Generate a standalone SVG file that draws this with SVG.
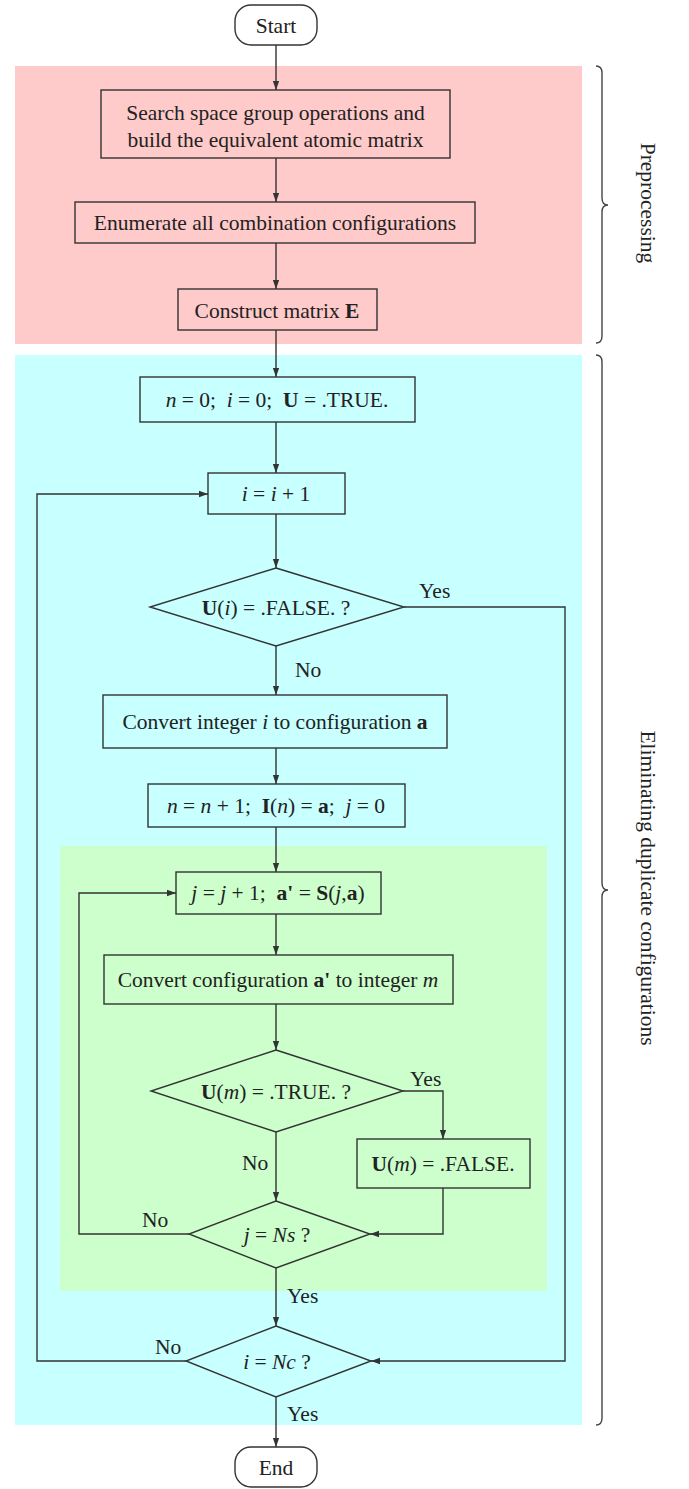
<svg xmlns="http://www.w3.org/2000/svg" width="689" height="1489" viewBox="0 0 689 1489">
<style>
text{font-family:"Liberation Serif","Times New Roman",serif;font-size:21.5px;fill:#222;}
.c{text-anchor:middle;}
.b{font-weight:bold;}
.i{font-style:italic;}
.n{fill:none;stroke:#333;stroke-width:1.4;}
.t{fill:#fff;stroke:#333;stroke-width:1.4;}
.e{fill:none;stroke:#333;stroke-width:1.4;}
.br{fill:none;stroke:#444;stroke-width:1.4;}
</style>
<defs>
<marker id="ah" viewBox="0 0 10 10" refX="10" refY="5" markerWidth="9" markerHeight="9" markerUnits="userSpaceOnUse" orient="auto">
<path d="M0,1.5 L10,5 L0,8.5 Z" fill="#333"/>
</marker>
</defs>
<g id="backgrounds">
<rect x="15" y="66" width="567" height="278" fill="#FFCACA"/>
<rect x="15" y="355" width="567" height="1070" fill="#C8FFFF"/>
<rect x="60" y="846" width="487" height="445" fill="#CCFFCC"/>
</g>
<g id="braces">
<path class="br" d="M596,66 Q602,66 602,73 L602,198 Q602,205 608,205 Q602,205 602,212 L602,336 Q602,343 596,343"/>
<path class="br" d="M596,355 Q602,355 602,362 L602,883 Q602,890 608,890 Q602,890 602,897 L602,1418 Q602,1425 596,1425"/>
<text class="c" transform="translate(641,203) rotate(90)">Preprocessing</text>
<text class="c" transform="translate(641,888) rotate(90)">Eliminating duplicate configurations</text>
</g>
<g id="connectors">
<path class="e" d="M276,45 L276,90" marker-end="url(#ah)"/>
<path class="e" d="M276,158 L276,202" marker-end="url(#ah)"/>
<path class="e" d="M276,243 L276,289" marker-end="url(#ah)"/>
<path class="e" d="M276,330 L276,377" marker-end="url(#ah)"/>
<path class="e" d="M276,422 L276,473" marker-end="url(#ah)"/>
<path class="e" d="M276,514 L276,568" marker-end="url(#ah)"/>
<path class="e" d="M276,646 L276,695" marker-end="url(#ah)"/>
<path class="e" d="M404,607 L565,607 L565,1361 L371,1361" marker-end="url(#ah)"/>
<path class="e" d="M276,748 L276,784" marker-end="url(#ah)"/>
<path class="e" d="M276,827 L276,872" marker-end="url(#ah)"/>
<path class="e" d="M276,914 L276,955" marker-end="url(#ah)"/>
<path class="e" d="M276,1004 L276,1050" marker-end="url(#ah)"/>
<path class="e" d="M403,1091 L443,1091 L443,1139" marker-end="url(#ah)"/>
<path class="e" d="M276,1132 L276,1201" marker-end="url(#ah)"/>
<path class="e" d="M443,1188 L443,1234 L370,1234" marker-end="url(#ah)"/>
<path class="e" d="M189,1234 L79,1234 L79,893 L176,893" marker-end="url(#ah)"/>
<path class="e" d="M276,1268 L276,1326" marker-end="url(#ah)"/>
<path class="e" d="M186,1361 L37,1361 L37,494 L208,494" marker-end="url(#ah)"/>
<path class="e" d="M276,1397 L276,1447" marker-end="url(#ah)"/>
<text x="419" y="598">Yes</text>
<text x="295" y="677">No</text>
<text x="410" y="1086">Yes</text>
<text x="242" y="1170">No</text>
<text x="142" y="1227">No</text>
<text x="287" y="1303">Yes</text>
<text x="155" y="1354">No</text>
<text x="287" y="1421">Yes</text>
</g>
<g id="start">
<rect class="t" x="235" y="5" width="82" height="40" rx="16"/>
<text class="c" x="276" y="33">Start</text>
</g>
<g id="search">
<rect class="n" x="101" y="90" width="349" height="68"/>
<text class="c" x="275.5" y="120">Search space group operations and</text>
<text class="c" x="275.5" y="147">build the equivalent atomic matrix</text>
</g>
<g id="enumerate">
<rect class="n" x="75" y="202" width="400" height="41"/>
<text class="c" x="275" y="230">Enumerate all combination configurations</text>
</g>
<g id="construct">
<rect class="n" x="178" y="289" width="199" height="41"/>
<text class="c" x="277" y="318">Construct matrix <tspan class="b">E</tspan></text>
</g>
<g id="init">
<rect class="n" x="140" y="377" width="275" height="45"/>
<text class="c" x="277" y="407" xml:space="preserve"><tspan class="i">n</tspan> = 0;  <tspan class="i">i</tspan> = 0;  <tspan class="b">U</tspan> = .TRUE.</text>
</g>
<g id="inc_i">
<rect class="n" x="208" y="473" width="137" height="41"/>
<text class="c" x="276" y="501"><tspan class="i">i</tspan> = <tspan class="i">i</tspan> + 1</text>
</g>
<g id="check_ui">
<polygon class="n" points="276,568 404,607 276,646 150,607"/>
<text class="c" x="276" y="615"><tspan class="b">U</tspan>(<tspan class="i">i</tspan>) = .FALSE. ?</text>
</g>
<g id="convert_i">
<rect class="n" x="103" y="695" width="344" height="53"/>
<text class="c" x="275" y="729">Convert integer <tspan class="i">i</tspan> to configuration <tspan class="b">a</tspan></text>
</g>
<g id="inc_n">
<rect class="n" x="148" y="784" width="257" height="43"/>
<text class="c" x="276" y="813" xml:space="preserve"><tspan class="i">n</tspan> = <tspan class="i">n</tspan> + 1;  <tspan class="b">I</tspan>(<tspan class="i">n</tspan>) = <tspan class="b">a</tspan>;  <tspan class="i">j</tspan> = 0</text>
</g>
<g id="inc_j">
<rect class="n" x="176" y="872" width="205" height="42"/>
<text class="c" x="278" y="900" xml:space="preserve"><tspan class="i">j</tspan> = <tspan class="i">j</tspan> + 1;  <tspan class="b">a'</tspan> = <tspan class="b">S</tspan>(<tspan class="i">j</tspan>,<tspan class="b">a</tspan>)</text>
</g>
<g id="convert_a">
<rect class="n" x="104" y="955" width="349" height="49"/>
<text class="c" x="278" y="987">Convert configuration <tspan class="b">a'</tspan> to integer <tspan class="i">m</tspan></text>
</g>
<g id="check_um">
<polygon class="n" points="276,1050 403,1091 276,1132 151,1091"/>
<text class="c" x="276" y="1099"><tspan class="b">U</tspan>(<tspan class="i">m</tspan>) = .TRUE. ?</text>
</g>
<g id="set_um">
<rect class="n" x="357" y="1139" width="173" height="49"/>
<text class="c" x="443" y="1171"><tspan class="b">U</tspan>(<tspan class="i">m</tspan>) = .FALSE.</text>
</g>
<g id="check_j">
<polygon class="n" points="276,1201 370,1234 276,1268 189,1234"/>
<text class="c" x="277" y="1242"><tspan class="i">j</tspan> = <tspan class="i">Ns</tspan> ?</text>
</g>
<g id="check_i">
<polygon class="n" points="276,1326 371,1361 276,1397 186,1361"/>
<text class="c" x="277" y="1369"><tspan class="i">i</tspan> = <tspan class="i">Nc</tspan> ?</text>
</g>
<g id="end">
<rect class="t" x="235" y="1447" width="82" height="40" rx="16"/>
<text class="c" x="276" y="1475">End</text>
</g>
</svg>
